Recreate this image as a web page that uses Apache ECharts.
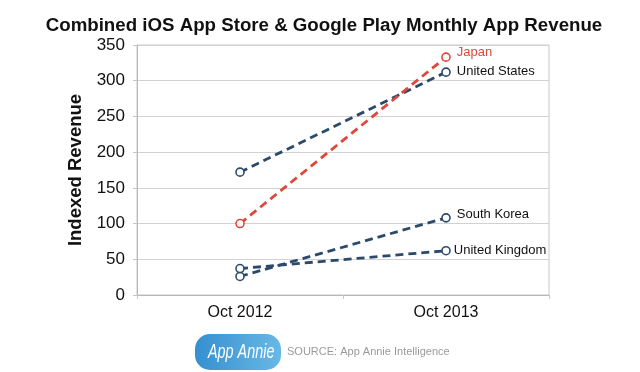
<!DOCTYPE html>
<html>
<head>
<meta charset="utf-8">
<script src="https://cdn.jsdelivr.net/npm/echarts@6/dist/echarts.min.js"></script>
<style>
  html, body { margin: 0; padding: 0; background: #fff; }
  #chart { width: 640px; height: 372px; }
</style>
</head>
<body>
<div id="chart"></div>
<script>
// Indexed monthly app revenue, iOS App Store + Google Play combined
const periods = ['Oct 2012', 'Oct 2013'];
const countries = ['United States', 'Japan', 'South Korea', 'United Kingdom'];
const unitedStates = [172, 312];
const japan = [100, 333];
const southKorea = [26, 108];
const unitedKingdom = [37, 62];
const yTicks = [0, 50, 100, 150, 200, 250, 300, 350];

const NAVY = '#2b4a6b';
const RED = '#e0473a';
const FONT = '"Liberation Sans", Arial, sans-serif';

function lineSeries(name, values, color, labelColor, labelOffset) {
  return {
    name: name,
    type: 'line',
    data: values,
    symbol: 'circle',
    symbolSize: 8,
    itemStyle: { color: '#fff', borderColor: color, borderWidth: 1.6 },
    lineStyle: { color: color, width: 2.8, type: [8, 5] },
    label: {
      show: true,
      position: 'right',
      distance: 6,
      offset: labelOffset,
      color: labelColor,
      fontSize: 13,
      fontFamily: FONT,
      formatter: p => (p.dataIndex === values.length - 1 ? name : '')
    },
    z: 3
  };
}

const chart = echarts.init(document.getElementById('chart'), null, { renderer: 'canvas' });
chart.setOption({
  animation: false,
  backgroundColor: '#fff',
  title: {
    text: 'Combined iOS App Store & Google Play Monthly App Revenue',
    left: 319,
    textAlign: 'center',
    top: 11,
    textStyle: { fontFamily: FONT, fontSize: 18.7, fontWeight: 'bold', color: '#111' }
  },
  grid: { left: 137, right: 91, top: 45, bottom: 77, show: true, borderColor: '#c8c8c8', borderWidth: 1 },
  xAxis: {
    type: 'category',
    data: periods,
    boundaryGap: true,
    axisLine: { lineStyle: { color: '#b8b8b8', width: 1 } },
    axisTick: { show: true, length: 4, lineStyle: { color: '#c8c8c8' } },
    axisLabel: { margin: 10, fontSize: 16, color: '#111', fontFamily: FONT }
  },
  yAxis: {
    type: 'value',
    min: yTicks[0],
    max: yTicks[yTicks.length - 1],
    interval: yTicks[1] - yTicks[0],
    name: 'Indexed Revenue',
    nameLocation: 'middle',
    nameGap: 46,
    nameRotate: 90,
    nameTextStyle: { fontFamily: FONT, fontSize: 18.5, fontWeight: 'bold', color: '#111' },
    axisLine: { show: true, lineStyle: { color: '#b8b8b8', width: 1 } },
    axisTick: { show: true, length: 4, lineStyle: { color: '#c8c8c8' } },
    splitLine: { lineStyle: { color: '#d2d2d2', width: 1 } },
    axisLabel: { margin: 12, fontSize: 17, color: '#111', fontFamily: FONT }
  },
  series: [
    lineSeries(countries[0], unitedStates, NAVY, '#111', [0, -1]),
    lineSeries(countries[1], japan, RED, RED, [0, -5]),
    lineSeries(countries[2], southKorea, NAVY, '#111', [0, -3]),
    lineSeries(countries[3], unitedKingdom, NAVY, '#111', [-3, 0])
  ],
  graphic: [
    {
      type: 'rect',
      left: 195,
      top: 334,
      shape: { width: 86, height: 36, r: 15 },
      style: {
        fill: new echarts.graphic.LinearGradient(0, 0, 1, 0, [
          { offset: 0, color: '#3590cf' },
          { offset: 1, color: '#68b8e6' }
        ])
      }
    },
    {
      type: 'text',
      x: 208,
      y: 342,
      scaleX: 0.72,
      style: {
        text: 'App Annie',
        fill: '#fff',
        font: 'italic 20px "Liberation Sans", Arial, sans-serif'
      }
    },
    {
      type: 'text',
      left: 287,
      top: 346,
      style: {
        text: 'SOURCE: App Annie Intelligence',
        fill: '#9a9a9a',
        font: '11px "Liberation Sans", Arial, sans-serif'
      }
    }
  ]
});
</script>
</body>
</html>
